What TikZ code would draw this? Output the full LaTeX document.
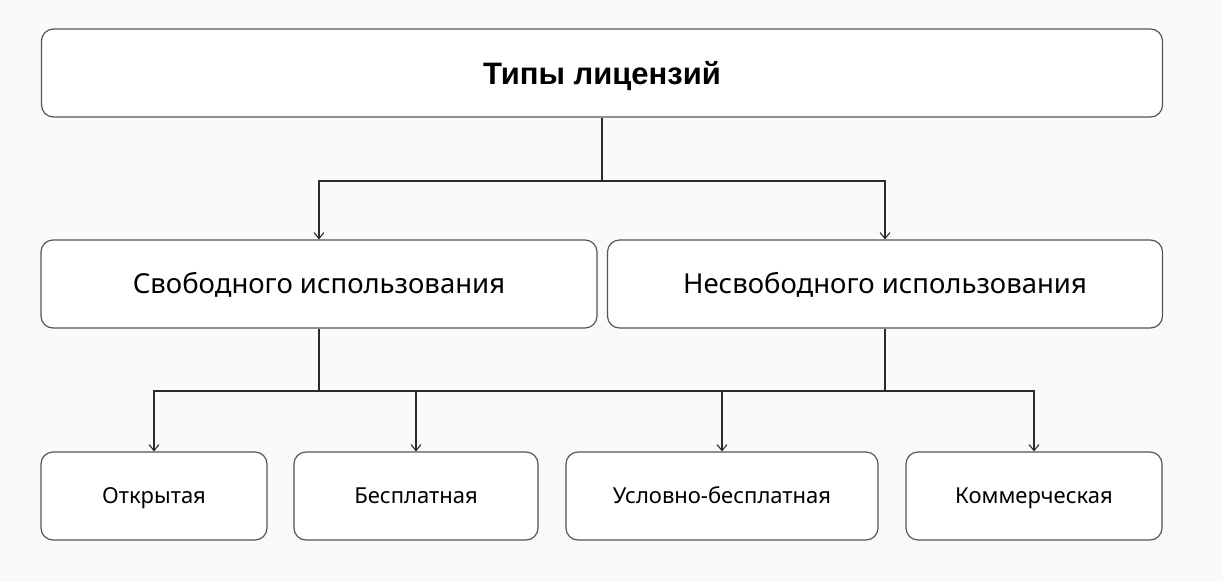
\documentclass[tikz,border=0pt]{standalone}
\usepackage{fontspec}
\setmainfont{Noto Sans}
\newfontfamily\headfont{Liberation Sans}
\usetikzlibrary{arrows.meta}
\definecolor{bgfill}{HTML}{FAFAFA}
\definecolor{boxline}{HTML}{555555}
\definecolor{linkline}{HTML}{2B2B2B}
\begin{document}
\begin{tikzpicture}[x=1pt,y=-1pt,
  box/.style={draw=boxline,fill=white,rounded corners=12pt,line width=1.2pt,
    inner sep=0pt,minimum height=88pt,text depth=0pt},
  headbox/.style={box,font=\headfont\bfseries\fontsize{31}{36}\selectfont,text height=22.2pt},
  groupbox/.style={box,font=\fontsize{27.5}{32}\selectfont,text height=19.8pt},
  leafbox/.style={box,font=\fontsize{22}{26}\selectfont,text height=15.8pt},
  link/.style={draw=linkline,line width=1.3pt},
  arr/.style={link,-{Straight Barb[length=6pt,width=10pt,line width=1.1pt]}}]
\fill[bgfill] (0,0) rectangle (1223,582);
% boxes
\node[headbox,minimum width=1121pt] (types) at (602,73) {Типы лицензий};
\node[groupbox,minimum width=556pt] (free) at (319,284) {Свободного использования};
\node[groupbox,minimum width=555pt] (nonfree) at (885,284) {Несвободного использования};
\node[leafbox,minimum width=226pt] (open) at (154,496) {Открытая};
\node[leafbox,minimum width=244pt] (gratis) at (416,496) {Бесплатная};
\node[leafbox,minimum width=312pt] (shareware) at (722,496) {Условно-бесплатная};
\node[leafbox,minimum width=256pt] (commerce) at (1034,496) {Коммерческая};
% forks
\coordinate (fork) at (602,181);
\coordinate (forkfree) at (319,391);
\coordinate (forknonfree) at (885,391);
\draw[link] (types.south) -- (fork);
\foreach \n in {free,nonfree}
  \draw[arr] (fork) -| (\n.north);
\draw[link] (free.south) -- (forkfree);
\draw[link] (nonfree.south) -- (forknonfree);
\foreach \n in {open,gratis}
  \draw[arr] (forkfree) -| (\n.north);
\foreach \n in {shareware,commerce}
  \draw[arr] (forknonfree) -| (\n.north);
\draw[link] (forkfree) -- (forknonfree);
\end{tikzpicture}
\end{document}
